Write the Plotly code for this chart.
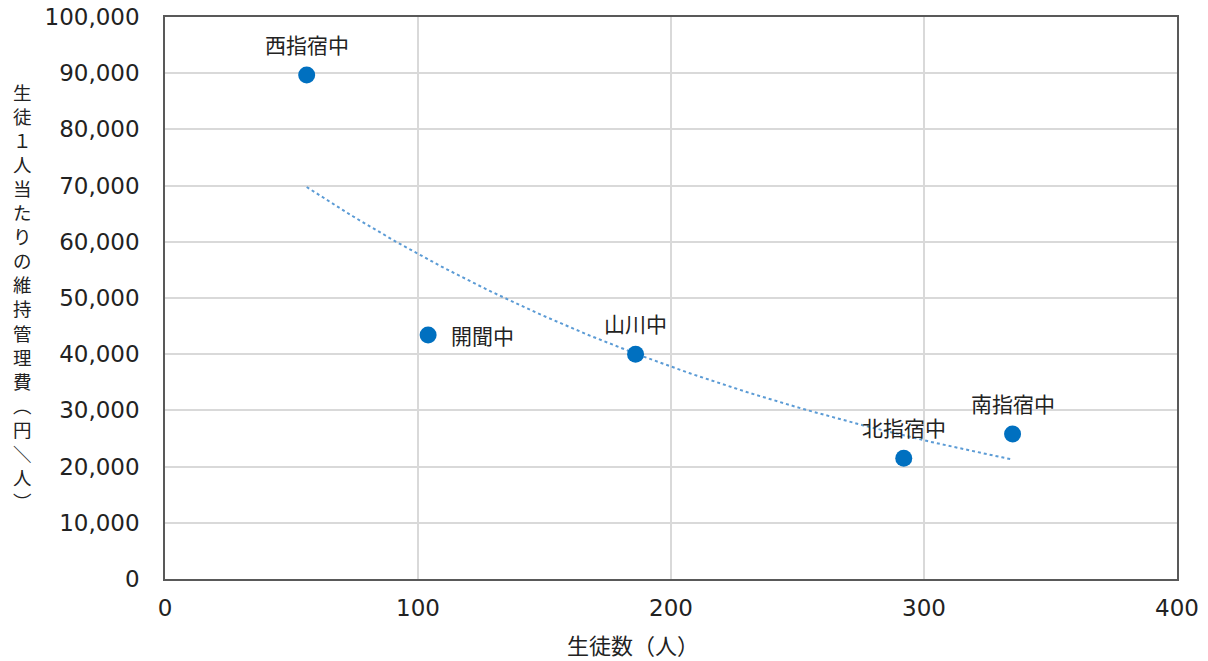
import numpy as np
import plotly.graph_objects as go

schools = ["西指宿中", "開聞中", "山川中", "北指宿中", "南指宿中"]
students = [56, 104, 186, 292, 335]
cost_per_student = [89700, 43400, 40000, 21500, 25800]
label_side = ["top", "right", "top", "top", "top"]

x_ticks = [0, 100, 200, 300, 400]
y_ticks = [0, 10000, 20000, 30000, 40000, 50000, 60000, 70000, 80000, 90000, 100000]

# exponential trendline (least squares on ln y)
xs = np.array(students, dtype=float)
ys = np.array(cost_per_student, dtype=float)
b, ln_a = np.polyfit(xs, np.log(ys), 1)
tx = np.linspace(xs.min(), xs.max(), 200)
ty = np.exp(ln_a) * np.exp(b * tx)

cjk_font = "Noto Sans CJK JP"
num_font = "DejaVu Sans"
txt_color = "#222222"

W, H = 1208, 661
L, R, T, B = 165, 31, 17, 82
plot_h = H - T - B
plot_w = W - L - R

fig = go.Figure()
fig.add_trace(go.Scatter(
    x=tx, y=ty, mode="lines",
    line=dict(color="#5B9BD5", width=2, dash="dot"),
    hoverinfo="skip", showlegend=False,
))
fig.add_trace(go.Scatter(
    x=students, y=cost_per_student, mode="markers",
    marker=dict(color="#0070C0", size=17),
    showlegend=False,
))

for name, sx, sy, side in zip(schools, students, cost_per_student, label_side):
    if side == "top":
        fig.add_annotation(x=sx, y=sy, text=name, showarrow=False,
                           xanchor="center", yanchor="middle", yshift=31,
                           font=dict(family=cjk_font, size=21, color=txt_color))
    else:
        fig.add_annotation(x=sx, y=sy, text=name, showarrow=False,
                           xanchor="left", yanchor="middle", xshift=21,
                           font=dict(family=cjk_font, size=21, color=txt_color))

axis_common = dict(
    showgrid=True, gridcolor="#D9D9D9", gridwidth=1.5,
    showline=True, linecolor="#595959", linewidth=1.5, mirror=True,
    zeroline=False, ticks="", automargin=False, ticklabeloverflow="allow",
    tickfont=dict(family=num_font, size=23, color=txt_color),
)

fig.update_xaxes(range=[0, 400], tickvals=x_ticks, ticktext=[str(v) for v in x_ticks],
                 ticklabelstandoff=8, **axis_common)
fig.update_yaxes(range=[0, 100000], tickvals=y_ticks, ticktext=[f"{v:,}" for v in y_ticks],
                 ticklabelstandoff=19, **axis_common)

# x-axis title
fig.add_annotation(
    text="生徒数（人）", xref="paper", yref="paper",
    x=(633 - L) / plot_w, y=-(644 - (H - B)) / plot_h,
    xanchor="center", yanchor="middle", showarrow=False,
    font=dict(family=cjk_font, size=22, color=txt_color),
)

# vertical y-axis title, one glyph per line
ytitle_chars = list("生徒１人当たりの維持管理費") + ["︵", "円", "＼", "人", "︶"]
fig.add_annotation(
    text="<br>".join(ytitle_chars), xref="paper", yref="paper",
    x=(22 - L) / plot_w, y=((H - B) - 296.5) / plot_h,
    xanchor="center", yanchor="middle", showarrow=False, align="center",
    font=dict(family=cjk_font, size=18.5, color=txt_color),
)

fig.update_layout(
    width=W, height=H,
    margin=dict(l=L, r=R, t=T, b=B, autoexpand=False),
    paper_bgcolor="white", plot_bgcolor="white",
)

fig.write_html("out.html", config={"displayModeBar": False},
               post_script="document.body.style.margin='0';")
